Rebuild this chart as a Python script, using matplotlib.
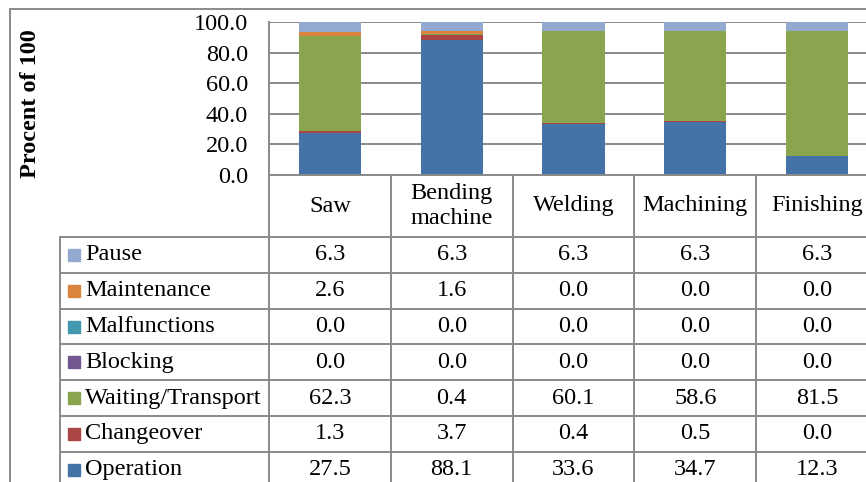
import numpy as np
import matplotlib.pyplot as plt
from matplotlib.lines import Line2D
from matplotlib.patches import Rectangle

plt.rcParams['font.family'] = ['Liberation Serif', 'DejaVu Serif']
plt.rcParams['font.size'] = 17.5

# Share of time per station (percent of 100)
stations = ['Saw', 'Bending\nmachine', 'Welding', 'Machining', 'Finishing']
operation = [27.5, 88.1, 33.6, 34.7, 12.3]
changeover = [1.3, 3.7, 0.4, 0.5, 0.0]
waiting = [62.3, 0.4, 60.1, 58.6, 81.5]
blocking = [0.0, 0.0, 0.0, 0.0, 0.0]
malfunctions = [0.0, 0.0, 0.0, 0.0, 0.0]
maintenance = [2.6, 1.6, 0.0, 0.0, 0.0]
pause = [6.3, 6.3, 6.3, 6.3, 6.3]

# stacking order, bottom to top
names = ['Operation', 'Changeover', 'Waiting/Transport', 'Blocking',
         'Malfunctions', 'Maintenance', 'Pause']
values = [operation, changeover, waiting, blocking, malfunctions, maintenance, pause]
colors = ['#4572A7', '#AA4643', '#89A54E', '#71588F', '#4198AF', '#DB843D', '#93A9CF']

W, H = 866, 482
grid_color = '#8a8a8a'


def fx(px):
    return px / W


def fy(py):
    return 1 - py / H


fig = plt.figure(figsize=(W / 100, H / 100), dpi=100)
ax = fig.add_axes([fx(269), fy(175), 609 / W, 153 / H])

x = np.arange(len(stations))
bottom = np.zeros(len(stations))
for name, vals, col in zip(names, values, colors):
    ax.bar(x, vals, 0.51, bottom=bottom, color=col, label=name, zorder=2)
    bottom += np.array(vals)

ax.set_xlim(-0.5, len(stations) - 0.5)
ax.set_ylim(0, 100)
ax.set_yticks(np.arange(0, 101, 20))
ax.set_yticklabels([f'{v:.1f}' for v in np.arange(0, 101, 20)])
ax.set_xticks([])
ax.yaxis.grid(True, color=grid_color, lw=1.4)
ax.set_axisbelow(True)
ax.tick_params(axis='y', length=0, pad=15)
for side in ['top', 'right', 'bottom']:
    ax.spines[side].set_visible(False)
ax.spines['left'].set_color(grid_color)
ax.spines['left'].set_linewidth(1.4)

fig.text(fx(31), fy(104), 'Procent of 100', rotation=90, fontweight='bold',
         ha='center', va='center')

# data table under the bars
fig.canvas.draw()
to_px = ax.transData.transform
col_edges = [to_px((i - 0.5, 0))[0] for i in range(len(stations) + 1)]
y_head_top, y_head_bot = 175, 237
row_h = 35.8
rows = list(zip(names, values, colors))[::-1]
y_bottom = y_head_bot + row_h * len(rows)


def hline(y, x0, x1):
    fig.add_artist(Line2D([fx(x0), fx(x1)], [fy(y), fy(y)], color=grid_color, lw=1.4))


def vline(xp, y0, y1):
    fig.add_artist(Line2D([fx(xp), fx(xp)], [fy(y0), fy(y1)], color=grid_color, lw=1.4))


hline(y_head_top, col_edges[0], col_edges[-1])
for k in range(len(rows) + 1):
    hline(y_head_bot + k * row_h, 60, col_edges[-1])
for xe in col_edges:
    vline(xe, y_head_top, y_bottom)
vline(60, y_head_bot, y_bottom)

for i, st in enumerate(stations):
    xc = (col_edges[i] + col_edges[i + 1]) / 2
    fig.text(fx(xc), fy((y_head_top + y_head_bot) / 2), st, ha='center', va='center',
             linespacing=1.25)

for k, (name, vals, col) in enumerate(rows):
    yc = y_head_bot + (k + 0.5) * row_h
    fig.add_artist(Rectangle((fx(68), fy(yc + 6)), 12 / W, 12 / H, color=col))
    fig.text(fx(85), fy(yc), name, ha='left', va='center')
    for i, v in enumerate(vals):
        xc = (col_edges[i] + col_edges[i + 1]) / 2
        fig.text(fx(xc), fy(yc), f'{v:.1f}', ha='center', va='center')

# chart frame
fig.add_artist(Rectangle((fx(9.5), fy(700)), 2, fy(8.5) - fy(700), fill=False,
                         edgecolor=grid_color, lw=1.4))

fig.savefig('out.png', dpi=100)
